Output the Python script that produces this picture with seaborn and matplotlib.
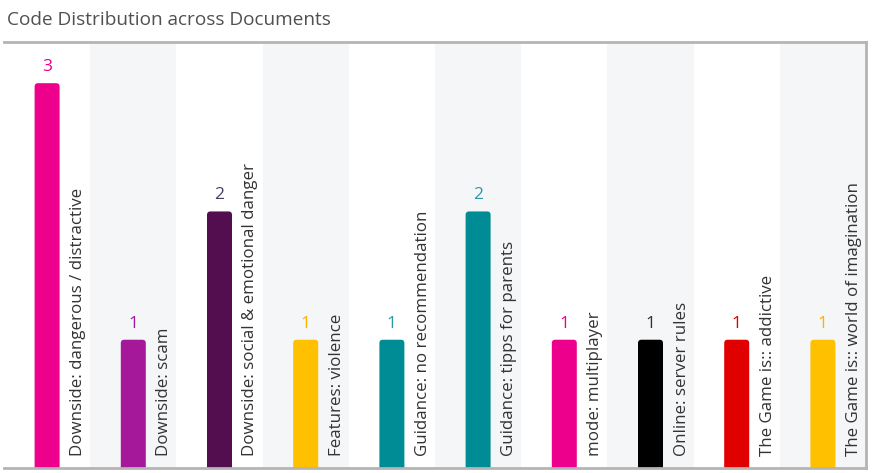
import numpy as np
import pandas as pd
import matplotlib.pyplot as plt
import seaborn as sns
from matplotlib.patches import FancyBboxPatch

codes = ['Downside: dangerous / distractive', 'Downside: scam',
         'Downside: social & emotional danger', 'Features: violence',
         'Guidance: no recommendation', 'Guidance: tipps for parents',
         'mode: multiplayer', 'Online: server rules',
         'The Game is:: addictive', 'The Game is:: world of imagination']
counts = [3, 1, 2, 1, 1, 2, 1, 1, 1, 1]
bar_colors = ['#ec008c', '#a5189a', '#520e4f', '#ffc000', '#008c95',
              '#008c95', '#ec008c', '#000000', '#e00000', '#ffc000']
label_colors = ['#ec008c', '#a5189a', '#4a3a6a', '#ffb000', '#2a9aa8',
                '#2a9aa8', '#ec008c', '#333333', '#e00000', '#ffb000']

df = pd.DataFrame({'code': codes, 'count': counts})

sns.set_style('white')
plt.rcParams['font.family'] = ['Open Sans', 'DejaVu Sans']

fig = plt.figure(figsize=(8.88, 4.73), dpi=100)
ax = fig.add_axes([4 / 888, 5 / 473, 862 / 888, 426 / 473])

sns.barplot(data=df, x='code', y='count', hue='code', palette=bar_colors,
            legend=False, width=0.29, ax=ax, saturation=1)
bars = list(ax.patches)

ax.set_xlim(-0.5, len(codes) - 0.5)
ax.set_ylim(0, max(counts) * 1.107)

# alternating background bands
for i in range(1, len(codes), 2):
    ax.axvspan(i - 0.5, i + 0.5, color='#f5f6f8', zorder=0, lw=0)

# swap square bars for bars with rounded tops
fig.canvas.draw()
px_x = ax.transData.transform([(1, 0)])[0][0] - ax.transData.transform([(0, 0)])[0][0]
px_y = ax.transData.transform([(0, 1)])[0][1] - ax.transData.transform([(0, 0)])[0][1]
for p in bars:
    x0, w, h = p.get_x(), p.get_width(), p.get_height()
    fc = p.get_facecolor()
    p.set_visible(False)
    ax.add_patch(FancyBboxPatch((x0, -0.2), w, h + 0.2,
                                boxstyle='round,pad=0,rounding_size=0.04',
                                mutation_aspect=px_x / px_y,
                                fc=fc, ec='none', zorder=2, clip_on=True))

for i, (c, v) in enumerate(zip(codes, counts)):
    ax.annotate(str(v), xy=(i, v), xytext=(0, 12), textcoords='offset pixels',
                ha='center', va='baseline', fontsize=12.5, color=label_colors[i])
    ax.annotate(c, xy=(i, 0), xytext=(23, 12), textcoords='offset pixels',
                rotation=90, ha='left', va='bottom', fontsize=12.2,
                color='#333333')

ax.set_xticks([])
ax.set_yticks([])
ax.set_xlabel('')
ax.set_ylabel('')
for s in ['top', 'right', 'bottom']:
    ax.spines[s].set_color('#b4b4b4')
    ax.spines[s].set_linewidth(2)
ax.spines['left'].set_visible(False)

fig.text(7 / 888, 1 - 20 / 473, 'Code Distribution across Documents',
         ha='left', va='center', fontsize=13.7, color='#505050')

plt.savefig('out.png', dpi=100)
